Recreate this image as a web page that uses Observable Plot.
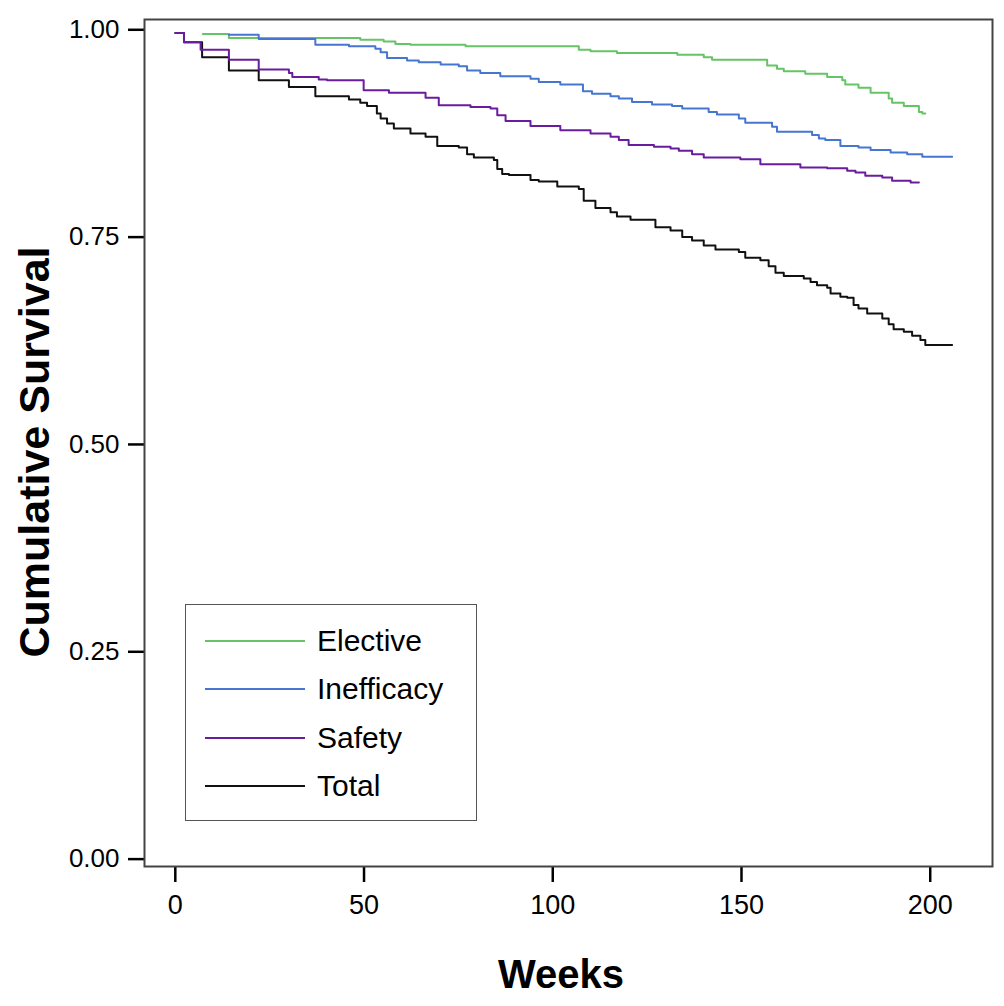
<!DOCTYPE html>
<html>
<head>
<meta charset="utf-8">
<script src="https://cdn.jsdelivr.net/npm/d3@7"></script>
<script src="https://cdn.jsdelivr.net/npm/@observablehq/plot@0.6"></script>
<style>
  body { margin: 0; background: #fff; }
  #wrap { position: relative; width: 1004px; height: 1006px; font-family: Arial, "Liberation Sans", sans-serif; }
  #wrap svg { display: block; }
  #legend { position: absolute; left: 185px; top: 604px; width: 292px; height: 217px; box-sizing: border-box; border: 1.5px solid #555; background: #fff; }
  .row { position: absolute; left: 0; height: 40px; display: flex; align-items: center; }
  .row svg { margin-left: 19px; }
  .row span { margin-left: 12px; font-size: 30px; color: #000; line-height: 1; }
</style>
</head>
<body>
<div id="wrap"></div>
<script>
// ---- data ----
const seriesNames = ["Elective", "Inefficacy", "Safety", "Total"];
const seriesColors = ["#66c466", "#4676cf", "#6a1c9e", "#111111"];
const xTicks = [0, 50, 100, 150, 200];
const yTicks = [0, 0.25, 0.5, 0.75, 1];

const electiveWeeks = [7.3, 14.2, 49, 55.2, 58.3, 62.3, 76.9, 106.9, 110, 117, 133, 140, 142.2, 156.8, 159.4, 161.2, 166.9, 172.7, 176.7, 177.5, 181, 184.2, 189, 189.9, 193, 197, 197.9, 198.7];
const electiveSurv  = [0.995, 0.990, 0.988, 0.986, 0.983, 0.982, 0.980, 0.976, 0.974, 0.972, 0.970, 0.967, 0.964, 0.957, 0.953, 0.950, 0.947, 0.943, 0.939, 0.934, 0.930, 0.924, 0.917, 0.912, 0.908, 0.901, 0.899, 0.899];

const inefficacyWeeks = [14.2, 22.1, 37.1, 46, 53, 54.4, 56.1, 61.4, 64.5, 70.3, 75.1, 77.3, 80.8, 86.1, 94.1, 96.3, 102, 108, 110.4, 115.3, 117.5, 121, 126.3, 131.6, 134.3, 141.3, 143.5, 149.3, 151, 158.1, 159.4, 168.7, 170.5, 172.2, 176.2, 181, 184.2, 189.5, 193.9, 197.9, 205.8];
const inefficacySurv  = [0.994, 0.989, 0.982, 0.980, 0.977, 0.973, 0.966, 0.963, 0.961, 0.958, 0.956, 0.951, 0.948, 0.944, 0.941, 0.937, 0.934, 0.926, 0.923, 0.920, 0.917, 0.913, 0.910, 0.908, 0.905, 0.901, 0.898, 0.893, 0.888, 0.883, 0.877, 0.873, 0.869, 0.867, 0.860, 0.858, 0.855, 0.852, 0.850, 0.847, 0.847];

const safetyWeeks = [0, 2.3, 6.7, 14.2, 22.1, 30.1, 31, 38, 40.2, 49.9, 56.6, 66.3, 69.8, 78.2, 83.5, 85.3, 87.5, 94.1, 102, 110, 115.3, 117.5, 120.1, 126.8, 131.2, 133.4, 136.9, 140, 149.7, 155, 165.6, 172.7, 178, 180.2, 182.8, 187.3, 189.9, 194.8, 197];
const safetySurv  = [0.996, 0.985, 0.976, 0.964, 0.952, 0.948, 0.943, 0.940, 0.939, 0.927, 0.924, 0.918, 0.909, 0.907, 0.905, 0.897, 0.890, 0.884, 0.879, 0.875, 0.871, 0.867, 0.861, 0.859, 0.857, 0.854, 0.850, 0.846, 0.844, 0.838, 0.834, 0.833, 0.830, 0.828, 0.824, 0.822, 0.818, 0.816, 0.816];

const totalWeeks = [0, 2.3, 7.1, 14.2, 22.1, 30.1, 37.1, 46, 49, 50.8, 53.4, 54.4, 56.1, 57.9, 62.3, 66.3, 69.4, 75.1, 77.3, 79.1, 84.4, 85.3, 86.6, 88.4, 94.1, 96.3, 101.2, 106.9, 108.2, 111.3, 115.3, 117, 120.6, 127.2, 131.2, 134.3, 136.9, 140, 143.1, 149.3, 151, 155, 157.2, 159, 161.2, 166.5, 168.3, 170, 172.7, 173.6, 176.2, 178, 179.7, 181, 183.3, 187.3, 189, 190.3, 193, 195.2, 197.4, 198.7, 205.8];
const totalSurv  = [0.996, 0.985, 0.967, 0.951, 0.939, 0.931, 0.920, 0.916, 0.912, 0.908, 0.899, 0.893, 0.887, 0.881, 0.875, 0.871, 0.860, 0.858, 0.850, 0.846, 0.843, 0.832, 0.826, 0.825, 0.819, 0.817, 0.811, 0.808, 0.794, 0.785, 0.780, 0.775, 0.771, 0.762, 0.758, 0.750, 0.746, 0.740, 0.735, 0.732, 0.725, 0.722, 0.715, 0.707, 0.703, 0.700, 0.696, 0.692, 0.689, 0.682, 0.678, 0.677, 0.668, 0.664, 0.658, 0.652, 0.645, 0.639, 0.636, 0.631, 0.626, 0.620, 0.620];

// ---- build table ----
function toRows(name, weeks, surv) {
  return weeks.map((w, i) => ({series: name, week: w, surv: surv[i]}));
}
// drawing order: Total underneath, then the others
const rows = [
  ...toRows("Total", totalWeeks, totalSurv),
  ...toRows("Elective", electiveWeeks, electiveSurv),
  ...toRows("Inefficacy", inefficacyWeeks, inefficacySurv),
  ...toRows("Safety", safetyWeeks, safetySurv)
];

const font = "Arial, 'Liberation Sans', sans-serif";

const chart = Plot.plot({
  width: 1004,
  height: 1006,
  marginLeft: 144,
  marginRight: 12,
  marginTop: 19,
  marginBottom: 140,
  style: {fontFamily: font, color: "#000", background: "#fff", fontSize: "26px"},
  x: {domain: [-8.16, 216.5]},
  y: {domain: [-0.0089, 1.0124]},
  color: {domain: seriesNames, range: seriesColors},
  marks: [
    Plot.axisX({ticks: xTicks, tickSize: 16, tickPadding: 12, fontSize: 27, strokeWidth: 2.5, label: null}),
    Plot.axisY({ticks: yTicks, tickFormat: d => d.toFixed(2), tickSize: 16, tickPadding: 9, fontSize: 26, strokeWidth: 2.5, label: null}),
    Plot.line(rows, {x: "week", y: "surv", z: "series", stroke: "series", curve: "step-after", strokeWidth: 2}),
    Plot.frame({stroke: "#444", strokeWidth: 2})
  ]
});

const svg = d3.select(chart);
svg.append("text")
  .attr("transform", "translate(49,452) rotate(-90)")
  .attr("text-anchor", "middle")
  .attr("font-family", font)
  .attr("font-weight", "bold")
  .attr("font-size", 43)
  .attr("fill", "#000")
  .text("Cumulative Survival");
svg.append("text")
  .attr("x", 561)
  .attr("y", 988)
  .attr("text-anchor", "middle")
  .attr("font-family", font)
  .attr("font-weight", "bold")
  .attr("font-size", 40)
  .attr("fill", "#000")
  .text("Weeks");

const wrap = document.getElementById("wrap");
wrap.appendChild(chart);

// legend
const legend = document.createElement("div");
legend.id = "legend";
seriesNames.forEach((name, i) => {
  const row = document.createElement("div");
  row.className = "row";
  row.style.top = (36 + i * 48.3 - 20) + "px";
  row.innerHTML = `<svg width="100" height="4"><line x1="0" x2="100" y1="2" y2="2" stroke="${seriesColors[i]}" stroke-width="2"/></svg><span>${name}</span>`;
  legend.appendChild(row);
});
wrap.appendChild(legend);
</script>
</body>
</html>
